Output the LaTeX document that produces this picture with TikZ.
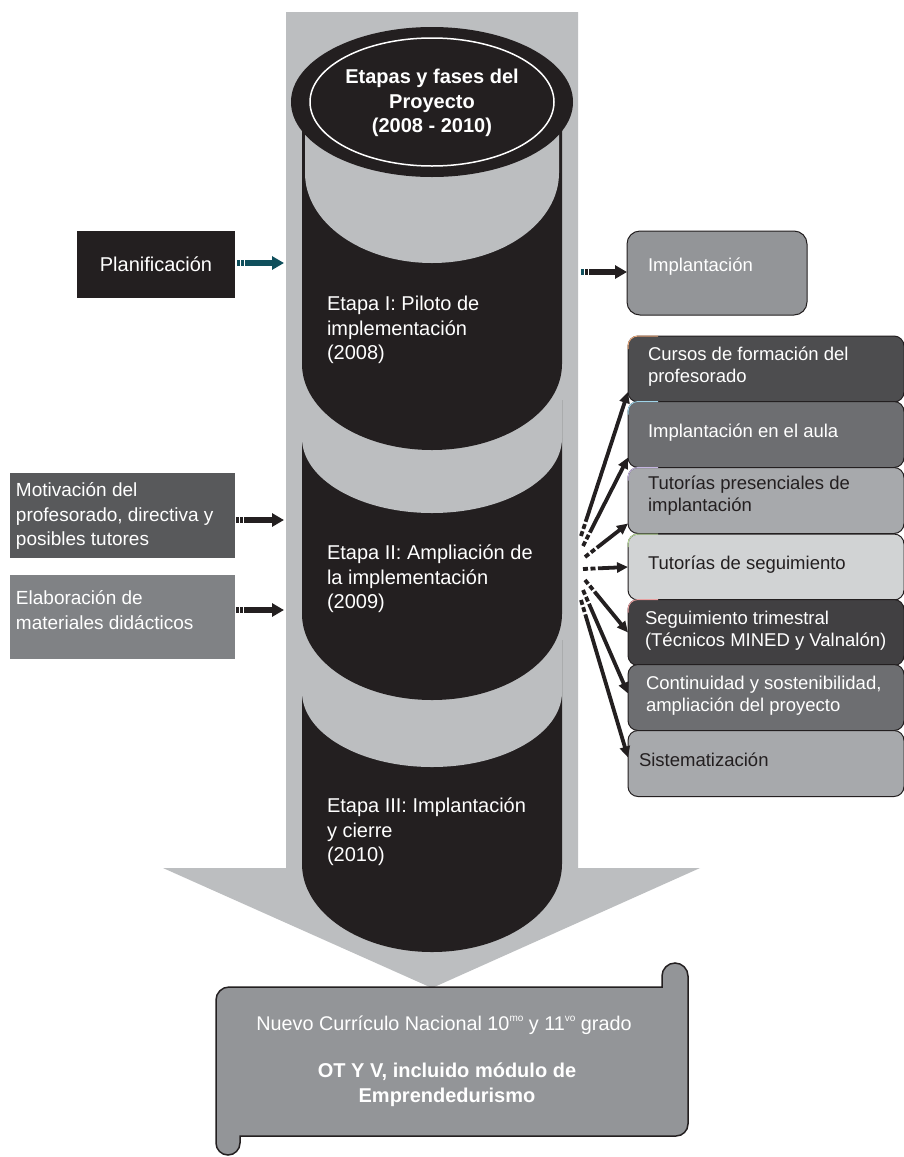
\documentclass[tikz,border=0pt]{standalone}
\usepackage{fontspec}
\setmainfont{Liberation Sans}
\usetikzlibrary{arrows.meta}
\definecolor{bandgray}{HTML}{BCBEC0}
\definecolor{cylblack}{HTML}{231F20}
\definecolor{scrollgray}{HTML}{939598}
\definecolor{tealarrow}{HTML}{0F4F5C}
\definecolor{boxA}{HTML}{4D4D4F}
\definecolor{boxB}{HTML}{6D6E71}
\definecolor{boxC}{HTML}{A7A9AC}
\definecolor{boxD}{HTML}{D1D3D4}
\definecolor{boxE}{HTML}{414042}
\definecolor{boxF}{HTML}{6D6E71}
\definecolor{boxG}{HTML}{A7A9AC}
\definecolor{leftA}{HTML}{58595B}
\definecolor{leftB}{HTML}{808285}
\definecolor{tintA}{HTML}{E8A87C}
\definecolor{tintB}{HTML}{9FD3E8}
\definecolor{tintC}{HTML}{C5B5E0}
\definecolor{tintD}{HTML}{B9D99A}
\definecolor{tintE}{HTML}{E8A0A0}
\newcommand\supx[1]{\raisebox{8.5pt}{\fontsize{10}{10}\selectfont #1}}
\begin{document}
\begin{tikzpicture}[x=1pt,y=-1pt,
  every node/.style={inner sep=0pt, outer sep=0pt},
  cyltext/.style={text=white, font=\fontsize{20}{24.5}\selectfont, align=left, anchor=west},
  ltext/.style={text=white, font=\fontsize{19}{24.5}\selectfont, align=left, anchor=west},
  rtextw/.style={text=white, font=\fontsize{18.5}{22}\selectfont, align=left, anchor=west},
  rtextd/.style={rtextw, text=cylblack},
  lbox/.style={rectangle, minimum width=225pt, minimum height=85pt},
  rbox/.style={rectangle, rounded corners=10pt, draw=cylblack, line width=1pt, minimum width=276pt, minimum height=66pt},
  tintline/.style={line width=1pt},
  harrow/.style={line width=6pt, -{Triangle[length=12pt,width=13pt]}, dash pattern=on 2.5pt off 1.5pt on 2.5pt off 1.5pt on 300pt},
  farrow/.style={cylblack, line width=3.8pt, -{Triangle[length=11pt,width=10pt]}, dash pattern=on 5pt off 2.5pt on 5pt off 2.5pt on 400pt}
]
\useasboundingbox (0,0) rectangle (903,1157);
\fill[white] (0,0) rectangle (903,1157);

% big gray arrow
\fill[bandgray] (286,12) -- (578,12) -- (578,868) -- (700,868) -- (432,988) -- (163,868) -- (286,868) -- cycle;

% cylinder segments (bottom to top)
\fill[cylblack] (302,640) -- (302,864) arc[start angle=180,end angle=0,x radius=130,y radius=88] -- (562,640) -- cycle;
\fill[bandgray] (302,600) -- (302,692) arc[start angle=180,end angle=0,x radius=130,y radius=75] -- (562,600) -- cycle;
\fill[cylblack] (302,400) -- (302,614) arc[start angle=180,end angle=0,x radius=130,y radius=86] -- (562,400) -- cycle;
\fill[bandgray] (302,340) -- (302,438) arc[start angle=180,end angle=0,x radius=130,y radius=75] -- (562,340) -- cycle;
\fill[cylblack] (302,102) -- (302,364) arc[start angle=180,end angle=0,x radius=130,y radius=86] -- (562,102) -- cycle;
\fill[bandgray] (305,102) -- (305,173) arc[start angle=180,end angle=0,x radius=127,y radius=90] -- (559,102) -- cycle;
\fill[cylblack] (432,102) ellipse[x radius=141, y radius=75];
\draw[white, line width=1.5pt] (432,102) ellipse[x radius=122, y radius=64];
\node[text=white, font=\bfseries\fontsize{20}{24.5}\selectfont, align=center] (title) at (432,103) {Etapas y fases del\\Proyecto\\(2008 - 2010)};

\node[cyltext] (etapa1) at (327,330) {Etapa I: Piloto de\\implementación\\(2008)};
\node[cyltext] (etapa2) at (327,579) {Etapa II: Ampliación de\\la implementación\\(2009)};
\node[cyltext] (etapa3) at (327,832) {Etapa III: Implantación\\y cierre\\(2010)};

% left boxes
\node[rectangle, fill=cylblack, minimum width=158pt, minimum height=67pt, text=white, font=\fontsize{20}{24}\selectfont] (planif) at (156,264.5) {Planificación};
\node[lbox, fill=leftA] (motiv) at (122.5,515.5) {};
\node[ltext] (motivt) at (16,516) {Motivación del\\profesorado, directiva y\\posibles tutores};
\node[lbox, fill=leftB, minimum height=84pt] (elab) at (122.5,617) {};
\node[ltext] (elabt) at (16,610) {Elaboración de\\materiales didácticos};

\coordinate (pe) at (284,263);
\coordinate (me) at (284,520);
\coordinate (ee) at (284,610);
\draw[harrow, tealarrow] ([xshift=2pt]planif.east |- pe) -- (pe);
\draw[harrow, cylblack] ([xshift=1pt]motiv.east |- me) -- (me);
\draw[harrow, cylblack] ([xshift=1pt]elab.east |- ee) -- (ee);

% right Implantacion box
\node[rectangle, rounded corners=13pt, draw=cylblack, line width=1pt, fill=scrollgray, minimum width=180pt, minimum height=84pt] (impl) at (717,273) {};
\node[rtextw] (implt) at (648,267) {Implantación};
\coordinate (is) at (581,272);
\draw[harrow, cylblack] (is) -- (impl.west |- is);
\draw[line width=6pt, tealarrow] (is) -- ++(2.5,0);

% right stack
\node[rbox, fill=boxA] (b1) at (766,369) {};
\node[rbox, fill=boxB] (b2) at (766,434.5) {};
\node[rbox, fill=boxC] (b3) at (766,500.5) {};
\node[rbox, fill=boxD] (b4) at (766,567) {};
\node[rbox, fill=boxE] (b5) at (766,632.5) {};
\node[rbox, fill=boxF] (b6) at (766,697.5) {};
\node[rbox, fill=boxG] (b7) at (766,763.5) {};
\draw[tintline, tintA] ([yshift=20pt]b1.west) -- ([yshift=-10pt]b1.north west) arc[start angle=180,end angle=270,radius=10] -- ++(20,0);
\draw[tintline, tintB] ([yshift=20pt]b2.west) -- ([yshift=-10pt]b2.north west) arc[start angle=180,end angle=270,radius=10] -- ++(20,0);
\draw[tintline, tintC] ([yshift=20pt]b3.west) -- ([yshift=-10pt]b3.north west) arc[start angle=180,end angle=270,radius=10] -- ++(20,0);
\draw[tintline, tintD] ([yshift=20pt]b4.west) -- ([yshift=-10pt]b4.north west) arc[start angle=180,end angle=270,radius=10] -- ++(20,0);
\draw[tintline, tintE] ([yshift=20pt]b5.west) -- ([yshift=-10pt]b5.north west) arc[start angle=180,end angle=270,radius=10] -- ++(20,0);

\node[rtextw] (t1) at (648,367) {Cursos de formación del\\profesorado};
\node[rtextw] (t2) at (648,433) {Implantación en el aula};
\node[rtextd] (t3) at (648,496) {Tutorías presenciales de\\implantación};
\node[rtextd] (t4) at (648,565) {Tutorías de seguimiento};
\node[rtextw] (t5) at (645,631) {Seguimiento trimestral\\(Técnicos MINED y Valnalón)};
\node[rtextw] (t6) at (646,696) {Continuidad y sostenibilidad,\\ampliación del proyecto};
\node[rtextd] (t7) at (639,760) {Sistematización};

% fan arrows
\coordinate (f1) at (581,536);
\coordinate (f2) at (583,546);
\coordinate (f3) at (585,557);
\coordinate (f4) at (583,569);
\coordinate (f5) at (585,580);
\coordinate (f6) at (583,590);
\coordinate (f7) at (581,600);
\draw[farrow] (f1) -- ([yshift=10pt]b1.south west);
\draw[farrow] (f2) -- ([yshift=10pt]b2.south west);
\draw[farrow] (f3) -- ([yshift=10pt]b3.south west);
\draw[farrow] (f4) -- (b4.west);
\draw[farrow] (f5) -- (b5.west);
\draw[farrow] (f6) -- ([yshift=4pt]b6.west);
\draw[farrow] (f7) -- ([yshift=6pt]b7.west);

% scroll
\draw[fill=scrollgray, draw=cylblack, line width=1.5pt]
  (216,1000) arc[start angle=180,end angle=270,radius=13] -- (662,987) -- (662,976)
  arc[start angle=180,end angle=360,radius=13] -- (688,1124)
  arc[start angle=0,end angle=90,radius=12] -- (240,1136) -- (240,1143)
  arc[start angle=0,end angle=180,radius=12] -- cycle;
\node[text=white, font=\fontsize{19.8}{22}\selectfont] (cur1) at (444,1025) {Nuevo Currículo Nacional 10\supx{mo} y 11\supx{vo} grado};
\node[text=white, font=\bfseries\fontsize{20}{25}\selectfont, align=center] (cur2) at (447,1085) {OT Y V, incluido módulo de\\Emprendedurismo};
\end{tikzpicture}
\end{document}
